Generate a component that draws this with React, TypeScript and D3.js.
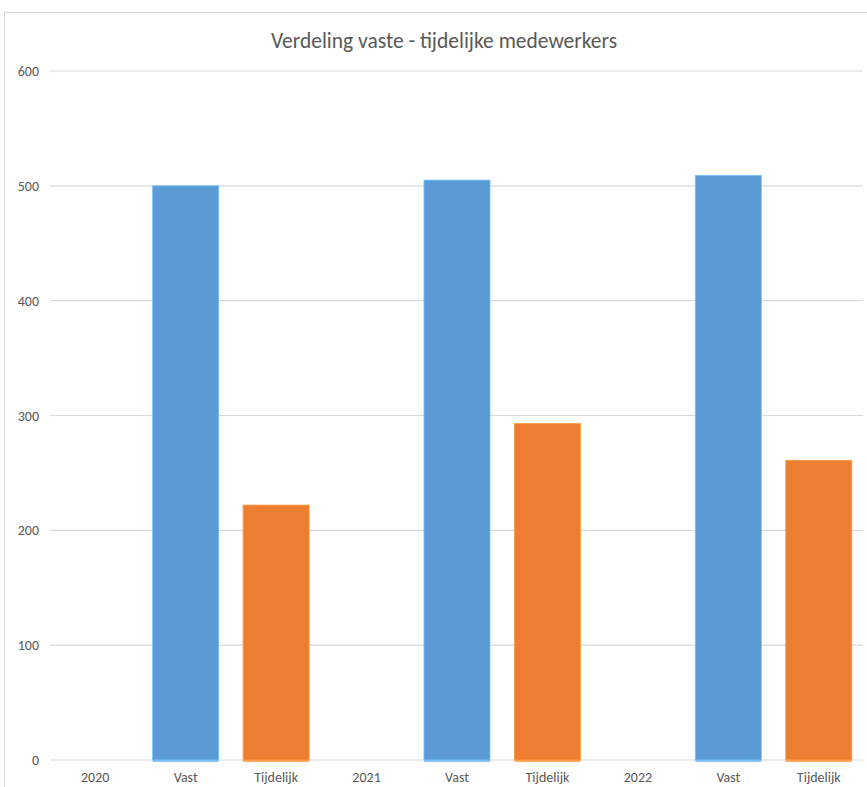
import React from "react";
import * as d3 from "d3";

// Werknemers per jaar, opgesplitst in vast en tijdelijk
const categories = ["2020", "Vast", "Tijdelijk", "2021", "Vast", "Tijdelijk", "2022", "Vast", "Tijdelijk"];
const values: (number | null)[] = [null, 500, 222, null, 505, 293, null, 509, 261];
const yTicks = [0, 100, 200, 300, 400, 500, 600];
const title = "Verdeling vaste - tijdelijke medewerkers";

const W = 867;
const H = 787;
const margin = { left: 50, right: 3, top: 71, bottom: 27 };
const FONT = "Calibri, Carlito, 'Liberation Sans Narrow', 'Open Sans', sans-serif";
const BLUE = "#5b9bd5";
const ORANGE = "#ed7d31";
const TEXT = "#595959";
const GRID = "#d9d9d9";

export default function App() {
  const x = d3
    .scaleBand<number>()
    .domain(categories.map((_, i) => i))
    .range([margin.left, W - margin.right])
    .paddingInner(0.27)
    .paddingOuter(0.135);
  const y = d3.scaleLinear().domain([0, 600]).range([H - margin.bottom, margin.top]);
  const step = (W - margin.right - margin.left) / categories.length;

  return (
    <svg
      width={W}
      height={H}
      style={{ position: "absolute", left: 0, top: 0, background: "#fff" }}
      fontFamily={FONT}
    >
      {/* chart frame */}
      <path d={`M4.5,${H} V12.5 H${W}`} fill="none" stroke={GRID} strokeWidth={1} />

      <text x={444} y={48} textAnchor="middle" fontSize={21.5} fill={TEXT}>
        {title}
      </text>

      {yTicks.map((t) => (
        <g key={t}>
          <line x1={margin.left} x2={W - 4} y1={y(t)} y2={y(t)} stroke={GRID} strokeWidth={1.2} />
          <text x={39} y={y(t) + 5} textAnchor="end" fontSize={14} fill={TEXT}>
            {t}
          </text>
        </g>
      ))}

      {values.map((v, i) => {
        if (v == null) return null;
        const color = categories[i] === "Vast" ? BLUE : ORANGE;
        const x0 = x(i)!;
        return (
          <g key={i}>
            <rect x={x0} y={y(v)} width={x.bandwidth()} height={y(0) - y(v)} fill={color} stroke={d3.color(color)!.brighter(0.6).formatHex()} strokeWidth={0.8} />
            <rect x={x0} y={y(0) - 0.5} width={x.bandwidth()} height={2.5} fill={d3.color(color)!.brighter(0.5).formatHex()} opacity={0.8} />
          </g>
        );
      })}

      {categories.map((c, i) => (
        <text
          key={i}
          x={margin.left + step * (i + 0.5)}
          y={782}
          textAnchor="middle"
          fontSize={14}
          fill={TEXT}
        >
          {c}
        </text>
      ))}
    </svg>
  );
}
